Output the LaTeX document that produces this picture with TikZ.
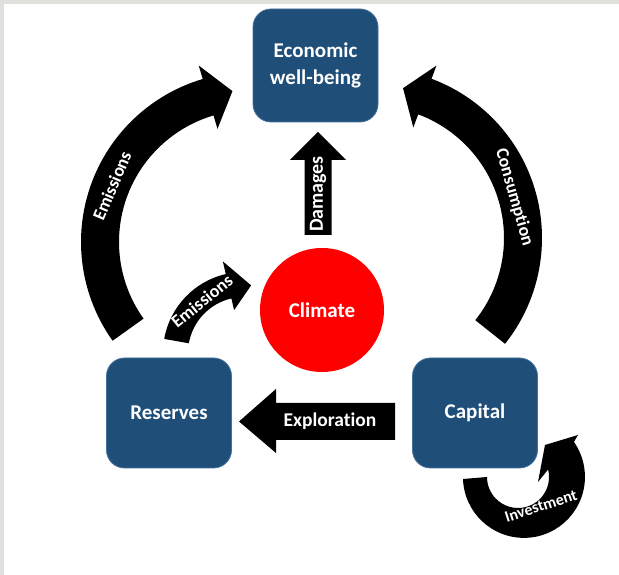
\documentclass[tikz,border=0pt]{standalone}
\usepackage{fontspec}
\setmainfont{Carlito}[Ligatures=NoCommon]
\definecolor{boxblue}{HTML}{1F4E79}
\definecolor{boxedge}{HTML}{41719C}
\definecolor{framegrey}{HTML}{E0E0DC}

\begin{document}
\begin{tikzpicture}[x=1pt,y=1pt]
                \tikzstyle{box}=[rectangle,rounded corners=18pt,fill=boxblue,draw=boxedge,line width=0.8pt,minimum width=125pt,minimum height=110pt,text=white,font=\bfseries\fontsize{21}{27}\selectfont,align=center]
                \tikzstyle{arclabel}=[text=white,inner sep=0pt,font=\bfseries\fontsize{18}{22}\selectfont]
                \useasboundingbox (0,0) rectangle (619,575);
                \fill[framegrey] (0,0) rectangle (619,575);
                \fill[white] (4,0) rectangle (619,571);

                        \node[box,minimum height=113pt] (econ) at (315.5,509.5){Economic\\well-being};
                        \node[box] (reserves) at (169,162){Reserves};
                        \node[box] (capital) at (475,162){Capital};
                        \node[circle,fill=red,minimum size=124pt,text=white,font=\bfseries\fontsize{21}{26}\selectfont] (climate) at (322,265){Climate};

                % straight block arrows
                \fill (304.5,340) -- (304.5,415) -- (290,415) -- (318,443) -- (346,415) -- (331.5,415) -- (331.5,340) -- cycle;
                \node[arclabel,rotate=90,font=\bfseries\fontsize{20}{24}\selectfont] (damages) at (318,381){Damages};
                \fill (395,135) -- (276,135) -- (276,122) -- (239,153.5) -- (276,186) -- (276,172) -- (395,172) -- cycle;
                \node[arclabel,font=\bfseries\fontsize{19.5}{24}\selectfont] (exploration) at (330,154){Exploration};

                % curved block arrows
                \begin{scope}[shift={(251,333)}]
                        \fill (215.5:132) arc[start angle=215.5,end angle=106.5,radius=132pt] -- (106.5:118) -- (97:152) -- (106.5:184) -- (106.5:170) arc[start angle=106.5,end angle=215.5,radius=170pt] -- cycle;
                        \node[arclabel,rotate=67] (emissions-a) at (158:150){Emissions};
                \end{scope}
                \begin{scope}[shift={(372,337)}]
                        \fill (-38.5:132) arc[start angle=-38.5,end angle=69.5,radius=132pt] -- (69.5:118) -- (78.3:153) -- (69.5:184) -- (69.5:170) arc[start angle=69.5,end angle=-38.5,radius=170pt] -- cycle;
                        \node[arclabel,rotate=-74] (consumption) at (16:148){Consumption};
                \end{scope}
                \begin{scope}[shift={(244,222)}]
                        \fill (170:56) arc[start angle=170,end angle=103,radius=56pt] -- (103:44) -- (84:68) -- (103:94) -- (103:81) arc[start angle=103,end angle=170,radius=81pt] -- cycle;
                        \node[arclabel,rotate=39] (emissions-b) at (129:67){Emissions};
                \end{scope}
                % investment loop: outer edge round (524,98), inner edge round (518,98)
                \fill (463,96) arc[start angle=182,end angle=395,radius=61pt] -- (578,140) -- (545,130) -- (538,93) -- (548.1,105.5) arc[start angle=14,end angle=-180,radius=31pt] -- cycle;
                \node[arclabel,rotate=18,font=\bfseries\fontsize{16}{20}\selectfont] (investment) at (541,69){Investment};
\end{tikzpicture}
\end{document}
